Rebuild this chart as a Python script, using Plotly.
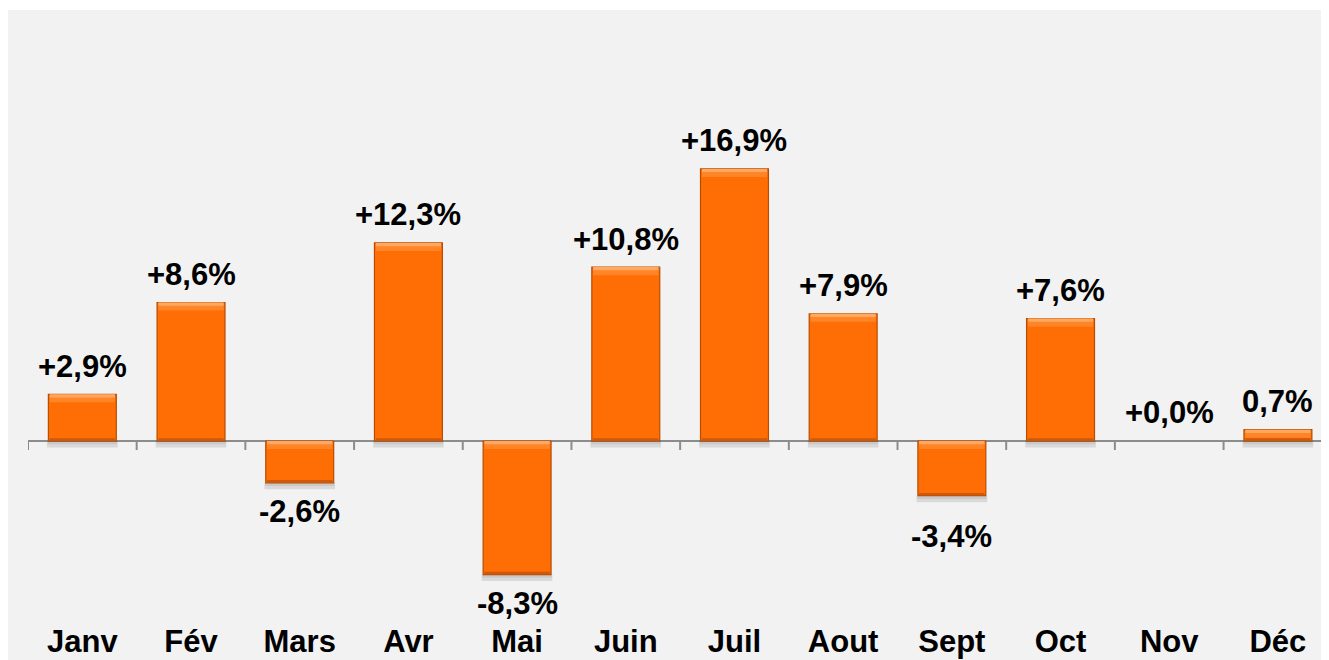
import plotly.graph_objects as go

months = ["Janv", "Fév", "Mars", "Avr", "Mai", "Juin", "Juil", "Aout", "Sept", "Oct", "Nov", "Déc"]
values = [2.9, 8.6, -2.6, 12.3, -8.3, 10.8, 16.9, 7.9, -3.4, 7.6, 0.0, 0.7]
labels = ["+2,9%", "+8,6%", "-2,6%", "+12,3%", "-8,3%", "+10,8%", "+16,9%", "+7,9%", "-3,4%", "+7,6%", "+0,0%", "0,7%"]
label_extra = {"Sept": 12}

# page is shown with an 8px body margin, so the figure is a little smaller
W, H = 1321, 652
ML, MR, MT, MB = 20, 0, 2, 40
PW, PH = W - ML - MR, H - MT - MB
YMIN, YMAX = -11.12, 26.77
XMIN, XMAX = -0.5, 11.47

FONT = "Arial, Liberation Sans, sans-serif"
ORANGE = "#ff6d05"
EDGE = "#b84c00"
BG = "#f2f2f2"


def px(x):
    return (x - ML) / PW


def py(y):
    return 1 - (y - MT) / PH


fig = go.Figure()
idx = list(range(len(months)))
nz = [v != 0 for v in values]
tops = [max(v, 0) for v in values]
bots = [min(v, 0) for v in values]


def effect(heights, bases, color, width, opacity=1.0):
    fig.add_trace(go.Bar(
        x=idx, y=[h if k else 0 for h, k in zip(heights, nz)], base=bases, width=width,
        marker=dict(color=color, opacity=opacity, line=dict(width=0)),
        hoverinfo="skip", showlegend=False,
    ))


# soft shadow below each bar
effect([0.4] * len(values), [b - 0.4 for b in bots], "rgba(0,0,0,0.10)", 0.65)
effect([0.2] * len(values), [b - 0.2 for b in bots], "rgba(0,0,0,0.07)", 0.64)

# main bars
fig.add_trace(go.Bar(
    x=idx, y=values, width=0.625,
    marker=dict(color=ORANGE,
                line=dict(color=EDGE, width=[1.2 if k else 0 for k in nz])),
    showlegend=False,
))

# darker bottom bevel
effect([0.17] * len(values), bots, "#c9570c", 0.60, 0.9)
# lighter top bevel
effect([0.5] * len(values), [t - 0.5 for t in tops], "#ff8a2e", 0.60, 0.85)
effect([0.2] * len(values), [t - 0.2 for t in tops], "#ffac68", 0.60, 0.9)

for i, (m, v, t) in enumerate(zip(months, values, labels)):
    extra = label_extra.get(m, 0)
    fig.add_annotation(
        x=i, y=v, xref="x", yref="y", text=t, showarrow=False,
        yanchor="middle", yshift=(28 if v >= 0 else -(29 + extra)),
        font=dict(family=FONT, size=31, color="#000000", weight="bold"),
    )

shapes = []
# thin white strip at the very top
shapes.append(dict(type="rect", xref="paper", yref="paper",
                   x0=px(0), x1=px(W), y0=py(0), y1=py(2),
                   fillcolor="white", line=dict(width=0), layer="below"))
# zero line
shapes.append(dict(type="line", xref="x", yref="y", x0=-0.5, x1=len(months) - 0.5,
                   y0=0, y1=0, line=dict(color="#8c8c8c", width=2), layer="below"))
# tick marks at category boundaries
for k in range(len(months) + 1):
    b = k - 0.5
    shapes.append(dict(type="line", xref="x", yref="y", ysizemode="pixel", yanchor=0,
                       x0=b, x1=b, y0=0, y1=-9,
                       line=dict(color="#8c8c8c", width=2), layer="below"))

fig.update_layout(
    width=W, height=H,
    margin=dict(l=ML, r=MR, t=MT, b=MB, pad=0),
    paper_bgcolor=BG, plot_bgcolor=BG,
    barmode="overlay",
    shapes=shapes,
    xaxis=dict(
        range=[XMIN, XMAX], tickmode="array", tickvals=idx, ticktext=months,
        showgrid=False, zeroline=False, showline=False, ticks="",
        tickfont=dict(family=FONT, size=31, color="#000000", weight="bold"),
    ),
    yaxis=dict(range=[YMIN, YMAX], showgrid=False, zeroline=False,
               showticklabels=False, showline=False, ticks=""),
    showlegend=False,
)

fig.write_html("out.html")
